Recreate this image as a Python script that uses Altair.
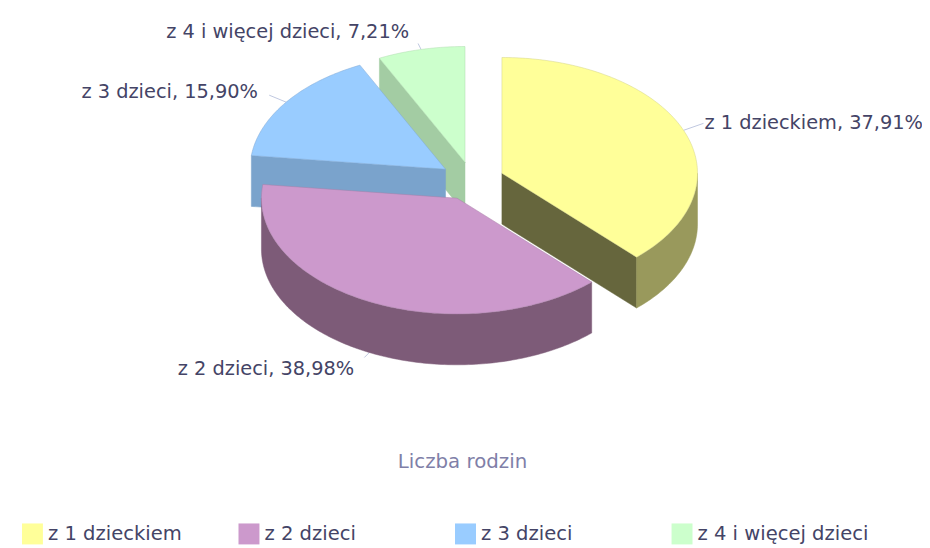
import math
import altair as alt
import pandas as pd

categories = ["z 1 dzieckiem", "z 2 dzieci", "z 3 dzieci", "z 4 i więcej dzieci"]
values = [37.91, 38.98, 15.90, 7.21]
value_labels = ["37,91%", "38,98%", "15,90%", "7,21%"]
top_colors = ["#FFFF99", "#CC99CC", "#99CCFF", "#CCFFCC"]
rim_colors = ["#99995C", "#7D5B78", "#7AA3CC", "#A3CCA3"]
face_colors = ["#66663D", "#7D5B78", "#7AA3CC", "#A3CCA3"]
edge_colors = ["#D2D28A", "#A87FA8", "#7FA8D4", "#B0DCB0"]
centres = [(503, 173), (458, 198), (446.5, 169), (466, 162)]
RX, RY, DEPTH = 196, 116, 51

FONT = "DejaVu Sans"
TEXT = "#444466"
W, H = 916, 538
xs = alt.Scale(domain=[8, 8 + W], nice=False, zero=False)
ys = alt.Scale(domain=[8 + H, 8], nice=False, zero=False)


def pt(c, deg, drop=0):
    a = math.radians(deg)
    return (c[0] + RX * math.sin(a), c[1] - RY * math.cos(a) + drop)


def arc(c, a0, a1, drop=0):
    n = max(2, int(abs(a1 - a0)))
    return [pt(c, a0 + (a1 - a0) * k / n, drop) for k in range(n + 1)]


def poly(points, fill, stroke=None):
    pts = list(points) + [points[0]]
    df = pd.DataFrame({"x": [p[0] for p in pts], "y": [p[1] for p in pts], "i": range(len(pts))})
    return alt.Chart(df).mark_line(
        fill=fill, stroke=stroke or fill, strokeWidth=0.5, interpolate="linear"
    ).encode(
        x=alt.X("x:Q", scale=xs, axis=None),
        y=alt.Y("y:Q", scale=ys, axis=None),
        order="i:Q",
    )


edges = [0]
for v in values:
    edges.append(edges[-1] + v * 3.6 * 100 / sum(values))
start = edges[:-1]
end = edges[1:]

layers = []

# leader lines, from the rim at each slice's middle angle
leader_ends = [(20, -7, 0), (-5, 5, DEPTH), (-17, -7, 0), (-3, -6, 0)]
for i in range(4):
    mid = (start[i] + end[i]) / 2
    sx, sy = pt(centres[i], mid, leader_ends[i][2])
    df = pd.DataFrame({"x": [sx, sx + leader_ends[i][0]], "y": [sy, sy + leader_ends[i][1]]})
    layers.append(alt.Chart(df).mark_line(color="#C0C8E0", strokeWidth=1).encode(
        x=alt.X("x:Q", scale=xs, axis=None), y=alt.Y("y:Q", scale=ys, axis=None)))


def radial_face(i, deg):
    c = centres[i]
    p = pt(c, deg)
    return poly([c, p, (p[0], p[1] + DEPTH), (c[0], c[1] + DEPTH)], face_colors[i])


def rim(i, a0, a1):
    c = centres[i]
    return poly(arc(c, a0, a1) + arc(c, a1, a0, DEPTH), rim_colors[i])


def top(i):
    c = centres[i]
    return poly([c] + arc(c, start[i], end[i]), top_colors[i], edge_colors[i])


layers += [radial_face(3, start[3]), top(3)]
layers += [radial_face(2, start[2]), top(2)]
layers += [radial_face(0, end[0]), rim(0, 90, end[0]), top(0)]
layers += [rim(1, start[1], 270), top(1)]

# data labels
label_pos = [(706, 123, "left"), (355, 369, "right"), (258.5, 92, "right"), (410, 31, "right")]
lab = pd.DataFrame({
    "x": [p[0] for p in label_pos],
    "y": [p[1] for p in label_pos],
    "t": [f"{c}, {v}" for c, v in zip(categories, value_labels)],
    "a": [p[2] for p in label_pos],
})
for a, g in lab.groupby("a"):
    layers.append(alt.Chart(g).mark_text(font=FONT, fontSize=19.4, color=TEXT, align=a, baseline="middle").encode(
        x=alt.X("x:Q", scale=xs, axis=None), y=alt.Y("y:Q", scale=ys, axis=None), text="t:N"))

# title under the pie
layers.append(alt.Chart(pd.DataFrame({"x": [463.5], "y": [462], "t": ["Liczba rodzin"]})).mark_text(
    font=FONT, fontSize=19.8, color="#7F7FA8", align="center", baseline="middle"
).encode(x=alt.X("x:Q", scale=xs, axis=None), y=alt.Y("y:Q", scale=ys, axis=None), text="t:N"))

# legend carrier
leg = pd.DataFrame({"c": categories, "x": [c[0] for c in centres], "y": [c[1] for c in centres]})
layers.append(alt.Chart(leg).mark_square(size=0, opacity=1).encode(
    x=alt.X("x:Q", scale=xs, axis=None),
    y=alt.Y("y:Q", scale=ys, axis=None),
    color=alt.Color("c:N", scale=alt.Scale(domain=categories, range=top_colors), legend=alt.Legend(
        title=None, orient="none", legendX=14, legendY=516, columns=4, gridAlign="all",
        symbolType="square", symbolSize=441, symbolStrokeWidth=0, columnPadding=19,
        labelFont=FONT, labelFontSize=19.6, labelColor=TEXT, labelOffset=5, labelLimit=300,
    )),
))

chart = alt.layer(*layers).properties(
    width=W, height=H, padding=0, autosize=alt.AutoSizeParams(type="none"), background="white"
).configure_view(stroke=None)

chart.save("out.html", embed_options={"renderer": "svg", "actions": False})
